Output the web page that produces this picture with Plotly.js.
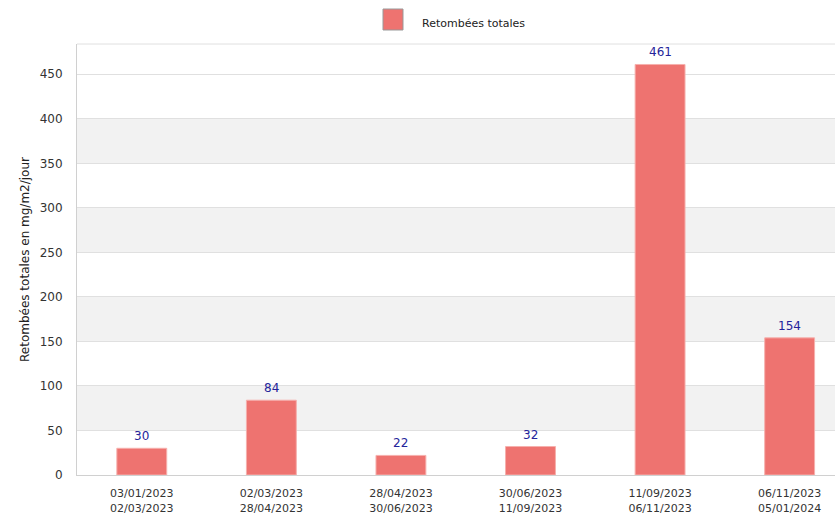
<!DOCTYPE html>
<html>
<head>
<meta charset="utf-8">
<script src="https://cdn.plot.ly/plotly-3.0.1.min.js"></script>
<style>html,body{margin:0;padding:0;background:#fff;}#chart{width:835px;height:514px;}</style>
</head>
<body>
<div id="chart"></div>
<script>
// Data
var periodStart = ["03/01/2023", "02/03/2023", "28/04/2023", "30/06/2023", "11/09/2023", "06/11/2023"];
var periodEnd = ["02/03/2023", "28/04/2023", "30/06/2023", "11/09/2023", "06/11/2023", "05/01/2024"];
var values = [30, 84, 22, 32, 461, 154];
var seriesName = "Retombées totales";
var yTitle = "Retombées totales en mg/m2/jour";
var yTicks = [0, 50, 100, 150, 200, 250, 300, 350, 400, 450];

var categories = periodStart.map(function (s, i) { return s + "<br>" + periodEnd[i]; });
var idx = values.map(function (v, i) { return i; });

var FONT = "DejaVu Sans, Verdana, sans-serif";
var L = 77, T = 44, B = 39, W = 835, H = 514;
var plotH = H - T - B;

var shapes = [];
// alternating bands
for (var b = 50; b < 450; b += 100) {
  shapes.push({type: "rect", xref: "paper", yref: "y", x0: 0, x1: 1, y0: b, y1: b + 50,
    fillcolor: "#f2f2f2", line: {width: 0}, layer: "below"});
}
// top border
shapes.push({type: "line", xref: "paper", yref: "paper", x0: 0, x1: 1, y0: 1, y1: 1,
  line: {color: "#e0e0e0", width: 1}});
// legend swatch
function px2x(p) { return (p - L) / (W - L); }
function py2y(p) { return (H - B - p) / plotH; }
shapes.push({type: "rect", xref: "paper", yref: "paper", x0: px2x(383), x1: px2x(403), y0: py2y(30), y1: py2y(9),
  fillcolor: "#ee7370", line: {color: "#999999", width: 1}});

var annotations = values.map(function (v, i) {
  return {x: i, y: v, xref: "x", yref: "y", text: String(v), showarrow: false,
    yanchor: "bottom", xanchor: "center", yshift: 3,
    font: {family: FONT, size: 12, color: "#24249a"}};
});
annotations.push({xref: "paper", yref: "paper", x: px2x(420), y: py2y(24), xanchor: "left", yanchor: "middle",
  text: seriesName, showarrow: false, font: {family: FONT, size: 11, color: "#222222"}});

var trace = {
  type: "bar",
  x: idx,
  y: values,
  name: seriesName,
  width: 0.385,
  marker: {color: "#ee7370", line: {color: "#f6b0ad", width: 1}},
  showlegend: false,
  hoverinfo: "x+y"
};

var layout = {
  width: W, height: H,
  margin: {l: L, r: 0, t: T, b: B, pad: 0},
  paper_bgcolor: "#ffffff",
  plot_bgcolor: "#ffffff",
  showlegend: false,
  font: {family: FONT, size: 12, color: "#333333"},
  xaxis: {
    range: [-0.5, 5.35],
    tickmode: "array",
    tickvals: idx,
    ticktext: categories,
    tickfont: {family: FONT, size: 11, color: "#333333"},
    showgrid: false,
    zeroline: false,
    showline: true,
    linecolor: "#d0d0d0",
    linewidth: 1,
    ticks: "outside",
    ticklen: 8,
    tickcolor: "rgba(0,0,0,0)",
    fixedrange: true
  },
  yaxis: {
    range: [0, 484],
    tickmode: "array",
    tickvals: yTicks,
    tickfont: {family: FONT, size: 12, color: "#333333"},
    showgrid: true,
    gridcolor: "#e0e0e0",
    gridwidth: 1,
    zeroline: false,
    showline: true,
    linecolor: "#d0d0d0",
    linewidth: 1,
    ticks: "",
    ticklabelstandoff: 11,
    title: {text: yTitle, font: {family: FONT, size: 12, color: "#222222"}, standoff: 7},
    fixedrange: true
  },
  shapes: shapes,
  annotations: annotations
};

Plotly.newPlot("chart", [trace], layout, {displayModeBar: false, staticPlot: true});
</script>
</body>
</html>
